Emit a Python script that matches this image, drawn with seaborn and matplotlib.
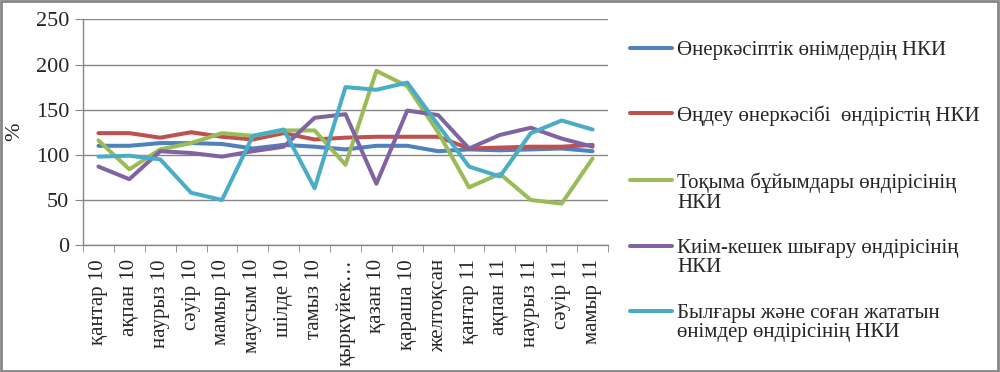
import pandas as pd
import matplotlib
matplotlib.use('Agg')
import matplotlib.pyplot as plt
import seaborn as sns
from matplotlib.patches import Rectangle
from matplotlib.ticker import FixedLocator

# Months on the x axis
months = ['қантар 10', 'ақпан 10', 'наурыз 10', 'сәуір 10', 'мамыр 10', 'маусым 10',
          'шілде 10', 'тамыз 10', 'қыркүйек…', 'қазан 10', 'қараша 10', 'желтоқсан',
          'қантар 11', 'ақпан 11', 'наурыз 11', 'сәуір 11', 'мамыр 11']

# Series labels
names = ['Өнеркәсіптік өнімдердің НКИ',
         'Өңдеу өнеркәсібі  өндірістің НКИ',
         'Тоқыма бұйымдары өндірісінің\nНКИ',
         'Киім-кешек шығару өндірісінің\nНКИ',
         'Былғары және соған жататын\nөнімдер өндірісінің НКИ']

# Values, %
industry = [110, 110, 113, 113, 112, 107, 111, 109, 106, 110, 110, 104, 106, 105, 106, 107, 104]
manufacturing = [124, 124, 119, 125, 120, 117, 124, 117, 119, 120, 120, 120, 107, 108, 109, 109, 111]
textile = [116, 84, 106, 113, 124, 121, 127, 127, 89, 193, 176, 125, 64, 79, 50, 46, 96]
clothing = [87, 73, 104, 102, 98, 104, 109, 141, 145, 68, 149, 144, 107, 122, 130, 118, 109]
leather = [98, 99, 95, 58, 50, 121, 128, 63, 175, 172, 180, 133, 87, 76, 124, 138, 128]

colors = ['#4F81BD', '#C0504D', '#9BBB59', '#8064A2', '#4BACC6']

series = [industry, manufacturing, textile, clothing, leather]
df = pd.concat([pd.DataFrame({'Month': months, 'Value': v, 'Series': n})
                for n, v in zip(names, series)], ignore_index=True)

sns.set_style('white')
plt.rcParams['font.family'] = ['Liberation Serif', 'DejaVu Serif']

fig = plt.figure(figsize=(10, 3.72), dpi=100)
ax = fig.add_axes([0.083, 0.341, 0.525, 0.607])

sns.lineplot(data=df, x='Month', y='Value', hue='Series', palette=colors,
             linewidth=2.9, sort=False, ax=ax)

ax.set_ylim(0, 250)
ax.set_yticks([0, 50, 100, 150, 200, 250])
ax.set_xlim(-0.5, len(months) - 0.5)
ax.grid(axis='y', color='#868686', linewidth=1)
ax.set_axisbelow(True)
for s in ['top', 'right']:
    ax.spines[s].set_visible(False)
for s in ['left', 'bottom']:
    ax.spines[s].set_color('#868686')
    ax.spines[s].set_linewidth(1)

ax.tick_params(axis='y', labelsize=16, length=6, color='#868686', left=True, pad=4)
ax.set_xticks(range(len(months)))
ax.set_xticklabels(months, rotation=90, fontsize=15)
ax.tick_params(axis='x', which='major', length=0, pad=10)
ax.xaxis.set_minor_locator(FixedLocator([i - 0.5 for i in range(len(months) + 1)]))
ax.tick_params(axis='x', which='minor', length=5, color='#868686', bottom=True)

ax.set_xlabel('')
ax.set_ylabel('%', fontsize=16)
ax.yaxis.set_label_coords(-0.112, 0.5)

# legend: pad one-line labels so every entry has the same height
handles, labels = ax.get_legend_handles_labels()
labels = [l if '\n' in l else l + '\n ' for l in labels]
ax.legend_.remove()
leg = fig.legend(handles, labels, loc='upper left', bbox_to_anchor=(0.630, 0.89),
                 frameon=False, fontsize=15, handlelength=2.0, handletextpad=0.25,
                 labelspacing=1.26, borderpad=0, borderaxespad=0)
for t in leg.get_texts():
    t.set_linespacing(1.05)
for line in leg.get_lines():
    line.set_linewidth(2.9)
for col in leg._legend_handle_box.get_children():
    for row in col.get_children():
        row.align = 'top'

fig.patches.append(Rectangle((0.001, 0.002), 0.997, 0.995, transform=fig.transFigure,
                             fill=False, edgecolor='#868686', linewidth=2))

fig.savefig('out.png', dpi=100)
